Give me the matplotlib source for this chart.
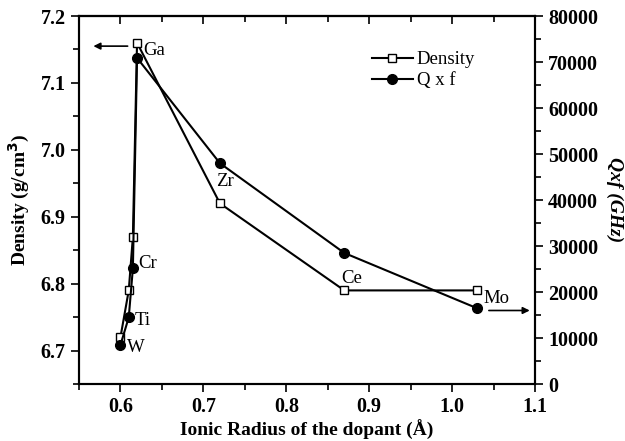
import numpy as np
import matplotlib.pyplot as plt
from matplotlib.ticker import MultipleLocator

plt.rcParams['font.family'] = ['Liberation Serif', 'DejaVu Serif']

# Donnees
dopants = ['W', 'Ti', 'Cr', 'Ga', 'Zr', 'Ce', 'Mo']
radius = [0.60, 0.61, 0.615, 0.62, 0.72, 0.87, 1.03]
density = [6.72, 6.79, 6.87, 7.16, 6.92, 6.79, 6.79]
qf = [8500, 14500, 25200, 70900, 48000, 28500, 16500]

fig = plt.figure(figsize=(6.25, 4.41), dpi=100)
ax = fig.add_axes([0.1264, 0.129, 0.7296, 0.8347])
ax2 = ax.twinx()

l1, = ax.plot(radius, density, '-s', color='black', lw=1.5, ms=6,
              mfc='white', mec='black', mew=1.0, label='Density')
l2, = ax2.plot(radius, qf, '-o', color='black', lw=1.5, ms=7,
               mfc='black', label='Q x f')

ax.set_xlim(0.55, 1.1)
ax.set_ylim(6.65, 7.2)
ax2.set_ylim(0, 80000)

ax.xaxis.set_major_locator(MultipleLocator(0.1))
ax.xaxis.set_minor_locator(MultipleLocator(0.05))
ax.yaxis.set_major_locator(MultipleLocator(0.1))
ax.yaxis.set_minor_locator(MultipleLocator(0.05))
ax2.yaxis.set_major_locator(MultipleLocator(10000))
ax2.yaxis.set_minor_locator(MultipleLocator(5000))

# ticks en bas, a gauche, a droite vers l'exterieur
for a, axis in ((ax, 'x'), (ax, 'y'), (ax2, 'y')):
    a.tick_params(axis=axis, which='both', direction='out', labelsize=14.5, width=1.2)
    a.tick_params(axis=axis, which='major', length=6)
    a.tick_params(axis=axis, which='minor', length=4)

# ticks du haut vers l'interieur
secx = ax.secondary_xaxis('top')
secx.xaxis.set_major_locator(MultipleLocator(0.1))
secx.xaxis.set_minor_locator(MultipleLocator(0.05))
secx.tick_params(which='both', direction='in', labeltop=False, width=1.2)
secx.tick_params(which='major', length=6)
secx.tick_params(which='minor', length=4)

for lab in ax.get_xticklabels() + ax.get_yticklabels() + ax2.get_yticklabels():
    lab.set_fontweight('bold')

for a in (ax, ax2):
    for s in a.spines.values():
        s.set_linewidth(1.5)
secx.spines['top'].set_linewidth(1.5)

ax.set_xlabel('Ionic Radius of the dopant (Å)', fontsize=14, fontweight='bold', labelpad=2)
ax.set_ylabel('Density (g/cm$^\\mathbf{3}$)', fontsize=14, fontweight='bold', labelpad=6)
ax2.set_ylabel('Qxf (GHz)', fontsize=14, fontweight='bold', style='italic',
               rotation=270, labelpad=18)

# etiquettes des dopants
label_pos = {'W': (0.608, 6.705), 'Ti': (0.617, 6.745), 'Cr': (0.622, 6.83),
             'Ga': (0.627, 7.148), 'Zr': (0.715, 6.952), 'Ce': (0.866, 6.808),
             'Mo': (1.038, 6.778)}
for name in dopants:
    tx, ty = label_pos[name]
    ax.text(tx, ty, name, fontsize=13.5, va='center', ha='left')

# fleches vers les axes
ax.annotate('', xy=(0.564, 7.155), xytext=(0.612, 7.155),
            arrowprops=dict(arrowstyle='-|>', color='black', lw=1.2, mutation_scale=10))
ax2.annotate('', xy=(1.097, 16000), xytext=(1.041, 16000),
             arrowprops=dict(arrowstyle='-|>', color='black', lw=1.2, mutation_scale=10))

ax.legend(handles=[l1, l2], loc='upper left', bbox_to_anchor=(0.605, 0.95),
          frameon=False, fontsize=13.5, handlelength=2.2, handletextpad=0.2,
          labelspacing=0.2)

fig.savefig('out.png', dpi=100)
